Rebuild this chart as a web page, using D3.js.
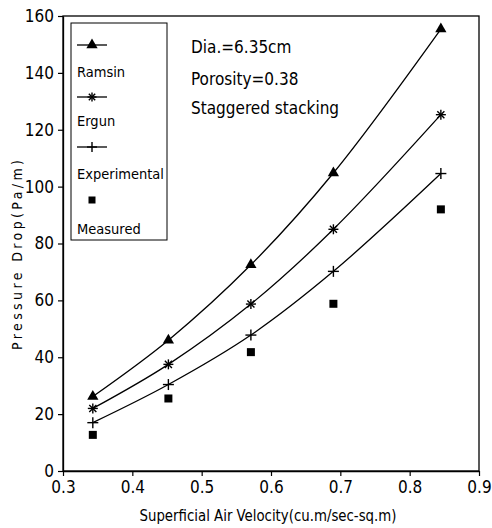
<!DOCTYPE html>
<html><head><meta charset="utf-8">
<script src="https://cdn.jsdelivr.net/npm/d3@7"></script>
<style>
body{margin:0;background:#fff;}
text{font-family:"DejaVu Sans Condensed","DejaVu Sans",sans-serif;fill:#000;}
</style></head><body>
<svg id="c" width="492" height="528"></svg>
<script>
const velocity = [0.343, 0.452, 0.571, 0.690, 0.845];
const ramsin = [26.2, 46.0, 72.5, 104.8, 155.4];
const ergun = [22.0, 37.5, 58.7, 85.0, 125.3];
const experimental = [17.0, 30.4, 47.8, 70.2, 104.6];
const measured = [12.7, 25.5, 41.8, 58.8, 92.0];
const xTicks = [0.3, 0.4, 0.5, 0.6, 0.7, 0.8, 0.9];
const yTicks = [0, 20, 40, 60, 80, 100, 120, 140, 160];
const seriesNames = ["Ramsin", "Ergun", "Experimental", "Measured"];
const annotations = ["Dia.=6.35cm", "Porosity=0.38", "Staggered stacking"];

const svg = d3.select("#c");
const L = 63, R = 479, T = 16, B = 471;
const x = d3.scaleLinear().domain([0.3, 0.9]).range([L, R]);
const y = d3.scaleLinear().domain([0, 160]).range([B, T]);

svg.append("rect").attr("x", L).attr("y", T).attr("width", R - L).attr("height", B - T)
  .attr("fill", "none").attr("stroke", "#000").attr("stroke-width", 1.3);

const xAxis = svg.append("g").attr("transform", `translate(0,${B})`)
  .call(d3.axisBottom(x).tickValues(xTicks).tickFormat(d3.format(".1f")).tickSize(5).tickSizeOuter(0));
const yAxis = svg.append("g").attr("transform", `translate(${L},0)`)
  .call(d3.axisLeft(y).tickValues(yTicks).tickFormat(d3.format("d")).tickSize(5).tickSizeOuter(0));
[xAxis, yAxis].forEach(a => {
  a.select(".domain").attr("stroke", "#000").attr("stroke-width", 1.3);
  a.selectAll(".tick line").attr("stroke", "#000").attr("stroke-width", 1.2);
  a.selectAll("text").style("font-size", "17px");
});
xAxis.selectAll("text").attr("dy", "0.85em");
yAxis.selectAll("text").attr("x", -9);

svg.append("text").attr("x", 268).attr("y", 521).attr("text-anchor", "middle")
  .attr("textLength", 257).attr("lengthAdjust", "spacingAndGlyphs")
  .style("font-size", "15px").text("Superficial Air Velocity(cu.m/sec-sq.m)");
svg.append("text").attr("transform", "translate(22,255) rotate(-90)").attr("text-anchor", "middle")
  .attr("textLength", 190).attr("lengthAdjust", "spacing")
  .style("font-size", "14px")
  .text("Pressure Drop(Pa/m)");

const line = d3.line().x((d, i) => x(velocity[i])).y(d => y(d)).curve(d3.curveCatmullRom.alpha(0.5));
const tri = d3.symbol().type(d3.symbolTriangle).size(55);

function drawStar(g, cx, cy, r) {
  for (let k = 0; k < 4; k++) {
    const a = k * Math.PI / 4;
    g.append("line").attr("x1", cx - r * Math.cos(a)).attr("y1", cy - r * Math.sin(a))
      .attr("x2", cx + r * Math.cos(a)).attr("y2", cy + r * Math.sin(a))
      .attr("stroke", "#000").attr("stroke-width", 1.4);
  }
}
function drawPlus(g, cx, cy, r) {
  g.append("line").attr("x1", cx - r).attr("y1", cy).attr("x2", cx + r).attr("y2", cy).attr("stroke", "#000").attr("stroke-width", 1.4);
  g.append("line").attr("x1", cx).attr("y1", cy - r).attr("x2", cx).attr("y2", cy + r).attr("stroke", "#000").attr("stroke-width", 1.4);
}
function drawTri(g, cx, cy) {
  g.append("path").attr("d", tri()).attr("transform", `translate(${cx},${cy})`).attr("fill", "#000");
}
function drawSq(g, cx, cy, s) {
  g.append("rect").attr("x", cx - s / 2).attr("y", cy - s / 2).attr("width", s).attr("height", s).attr("fill", "#000");
}

const g = svg.append("g");
[ramsin, ergun, experimental].forEach(s => {
  g.append("path").attr("d", line(s)).attr("fill", "none").attr("stroke", "#000").attr("stroke-width", 1.3);
});
ramsin.forEach((v, i) => drawTri(g, x(velocity[i]), y(v)));
ergun.forEach((v, i) => drawStar(g, x(velocity[i]), y(v), 5));
experimental.forEach((v, i) => drawPlus(g, x(velocity[i]), y(v), 5.5));
measured.forEach((v, i) => drawSq(g, x(velocity[i]), y(v), 8));

const lg = svg.append("g");
lg.append("rect").attr("x", 71).attr("y", 23).attr("width", 96).attr("height", 217)
  .attr("fill", "none").attr("stroke", "#000").attr("stroke-width", 1);
const symY = [45, 97, 147, 200];
const txtY = [77, 126, 179, 234];
symY.forEach((sy, i) => {
  if (i < 3) lg.append("line").attr("x1", 77).attr("x2", 107).attr("y1", sy).attr("y2", sy).attr("stroke", "#000").attr("stroke-width", 1.3);
  if (i === 0) drawTri(lg, 92, sy);
  if (i === 1) drawStar(lg, 92, sy, 4.5);
  if (i === 2) drawPlus(lg, 92, sy, 5);
  if (i === 3) drawSq(lg, 92, sy, 7);
  lg.append("text").attr("x", 77).attr("y", txtY[i]).style("font-size", "14.5px").text(seriesNames[i]);
});

const annY = [53, 85, 114];
annotations.forEach((t, i) => {
  svg.append("text").attr("x", 191).attr("y", annY[i]).style("font-size", "17px").text(t);
});
</script>
</body></html>
